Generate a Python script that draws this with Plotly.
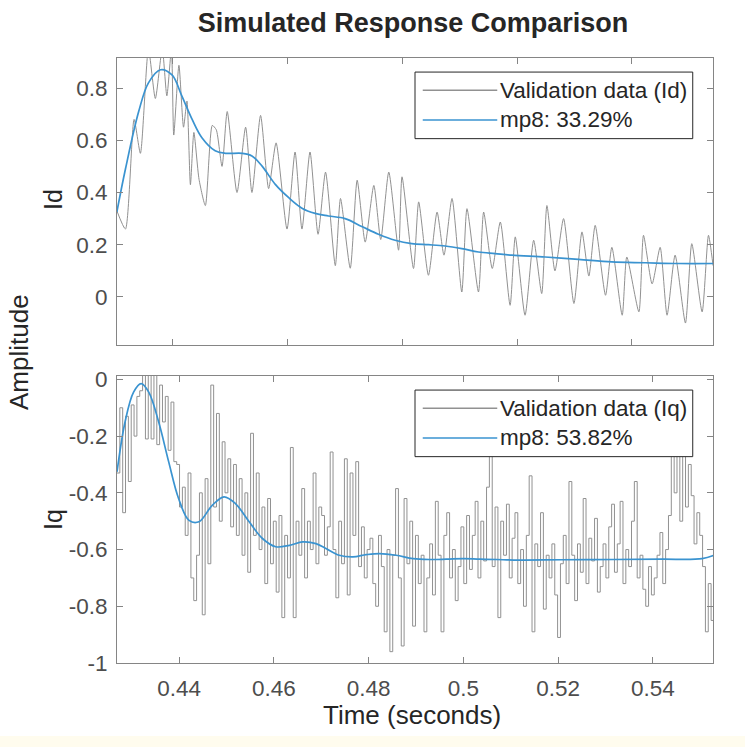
import plotly.graph_objects as go

# ---------------- data ----------------
# Top panel (Id): validation data, turning points (time s, amplitude)
id_val_t = [0.4304, 0.4319, 0.4334, 0.4345, 0.4359, 0.4371, 0.4383, 0.4391, 0.4399, 0.4403,
            0.4412, 0.4420, 0.4426, 0.4432, 0.4438, 0.4447, 0.4458, 0.4470, 0.4477, 0.4487,
            0.4496, 0.4513, 0.4528, 0.4539, 0.4554, 0.4568, 0.4581, 0.4600, 0.4614, 0.4626,
            0.4640, 0.4654, 0.4667, 0.4684, 0.4693, 0.4710, 0.4722, 0.4736, 0.4751, 0.4763,
            0.4777, 0.4794, 0.4800, 0.4820, 0.4829, 0.4846, 0.4861, 0.4873, 0.4887, 0.4904,
            0.4913, 0.4933, 0.4942, 0.4957, 0.4971, 0.4988, 0.4997, 0.5014, 0.5029, 0.5043,
            0.5052, 0.5066, 0.5081, 0.5099, 0.5113, 0.5125, 0.5136, 0.5154, 0.5165, 0.5183,
            0.5191, 0.5212, 0.5220, 0.5235, 0.5249, 0.5261, 0.5275, 0.5293, 0.5304, 0.5322,
            0.5333, 0.5341]
id_val_y = [0.33, 0.26, 0.68, 0.55, 0.95, 0.76, 0.95, 0.77, 0.95, 0.62,
            0.887, 0.65, 0.75, 0.43, 0.63, 0.45, 0.35, 0.657, 0.64, 0.50,
            0.71, 0.40, 0.65, 0.40, 0.695, 0.415, 0.59, 0.26, 0.555, 0.26,
            0.555, 0.24, 0.478, 0.12, 0.377, 0.11, 0.447, 0.21, 0.427, 0.22,
            0.478, 0.179, 0.46, 0.109, 0.364, 0.083, 0.325, 0.16, 0.377, 0.019,
            0.338, 0.019, 0.325, 0.109, 0.287, -0.032, 0.23, -0.07, 0.217, 0.013,
            0.35, 0.10, 0.30, -0.025, 0.249, 0.08, 0.274, 0.0065, 0.19, -0.07,
            0.153, -0.057, 0.236, 0.05, 0.19, -0.07, 0.16, -0.10, 0.204, -0.057,
            0.236, 0.12]

# Top panel (Id): model mp8 simulated response
id_mod_t = [0.4304, 0.4319, 0.4342, 0.4359, 0.4380, 0.4400, 0.4417, 0.4435, 0.4452, 0.4475,
            0.4493, 0.4522, 0.4539, 0.4557, 0.4580, 0.4603, 0.4626, 0.4649, 0.4672, 0.4701,
            0.4730, 0.4759, 0.4788, 0.4817, 0.4846, 0.4875, 0.4904, 0.4933, 0.4962, 0.4991,
            0.5049, 0.5107, 0.5165, 0.5223, 0.5281, 0.5341]
id_mod_y = [0.325, 0.49, 0.71, 0.82, 0.87, 0.85, 0.77, 0.68, 0.61, 0.56,
            0.55, 0.55, 0.54, 0.50, 0.43, 0.38, 0.34, 0.32, 0.31, 0.30,
            0.27, 0.24, 0.217, 0.204, 0.20, 0.195, 0.185, 0.172, 0.166, 0.16,
            0.153, 0.144, 0.134, 0.131, 0.128, 0.128]

# Bottom panel (Iq): validation data sampled every IQ_DT seconds from IQ_T0
IQ_T0 = 0.4269
IQ_DT = 0.0006
iq_val_y = [
    -0.33, -0.10, -0.47, -0.13, -0.36, -0.09, -0.20, -0.06, -0.04, 0.03,
    -0.21, 0.03, -0.21, 0.03, -0.23, -0.02, -0.15, -0.06, -0.25, -0.08,
    -0.29, -0.30, -0.45, -0.38, -0.55, -0.33, -0.70, -0.78, -0.62, -0.40,
    -0.83, -0.35, -0.65, -0.02, -0.45, -0.12, -0.50, -0.22, -0.40, -0.28,
    -0.52, -0.30, -0.55, -0.35, -0.62, -0.40, -0.68, -0.19, -0.55, -0.33,
    -0.60, -0.45, -0.72, -0.42, -0.65, -0.50, -0.75, -0.48, -0.84, -0.55,
    -0.70, -0.24, -0.84, -0.50, -0.62, -0.385, -0.70, -0.50, -0.60, -0.33,
    -0.65, -0.45, -0.48, -0.62, -0.52, -0.256, -0.60, -0.77, -0.50, -0.65,
    -0.28, -0.76, -0.33, -0.55, -0.29, -0.66, -0.52, -0.70, -0.60, -0.56,
    -0.72, -0.80, -0.55, -0.66, -0.89, -0.60, -0.96, -0.62, -0.385, -0.70,
    -0.94, -0.42, -0.65, -0.50, -0.87, -0.55, -0.72, -0.62, -0.89, -0.70,
    -0.58, -0.76, -0.43, -0.62, -0.89, -0.55, -0.47, -0.70, -0.60, -0.78,
    -0.66, -0.52, -0.72, -0.48, -0.67, -0.55, -0.43, -0.70, -0.50, -0.64,
    -0.38, -0.20, -0.66, -0.45, -0.84, -0.50, -0.62, -0.44, -0.70, -0.56,
    -0.47, -0.72, -0.60, -0.80, -0.55, -0.34, -0.89, -0.58, -0.66, -0.47,
    -0.81, -0.62, -0.70, -0.58, -0.76, -0.91, -0.65, -0.55, -0.72, -0.36,
    -0.62, -0.78, -0.58, -0.68, -0.42, -0.72, -0.56, -0.64, -0.49, -0.75,
    -0.66, -0.58, -0.70, -0.52, -0.44, -0.68, -0.58, -0.43, -0.72, -0.60,
    -0.66, -0.50, -0.36, -0.70, -0.62, -0.74, -0.80, -0.66, -0.76, -0.70,
    -0.62, -0.54, -0.72, -0.60, -0.48, -0.26, -0.40, -0.26, -0.50, -0.26,
    -0.45, -0.30, -0.41, -0.58, -0.47, -0.55, -0.66, -0.89, -0.72, -0.85,
    -0.62, -0.60]
iq_val_t = [IQ_T0 + IQ_DT * k for k in range(len(iq_val_y))]

# Bottom panel (Iq): model mp8 simulated response
iq_mod_t = [0.4269, 0.4286, 0.4304, 0.4320, 0.4336, 0.4357, 0.4378, 0.4399, 0.4421, 0.4442,
            0.4470, 0.4495, 0.4519, 0.4548, 0.4576, 0.4604, 0.4633, 0.4661, 0.4689, 0.4710,
            0.4738, 0.4767, 0.4795, 0.4823, 0.4858, 0.4894, 0.4929, 0.4964, 0.5000, 0.5035,
            0.5070, 0.5106, 0.5207, 0.5318, 0.5419, 0.5504, 0.5529]
iq_mod_y = [-0.326, -0.15, -0.045, -0.015, -0.045, -0.15, -0.29, -0.42, -0.497, -0.502,
            -0.444, -0.414, -0.438, -0.502, -0.561, -0.59, -0.585, -0.573, -0.579, -0.596,
            -0.62, -0.626, -0.618, -0.614, -0.62, -0.632, -0.635, -0.634, -0.632, -0.634,
            -0.635, -0.637, -0.636, -0.635, -0.634, -0.632, -0.62]

# Ticks and labels
x_tick_vals = [0.44, 0.46, 0.48, 0.50, 0.52, 0.54]
x_tick_text = ["0.44", "0.46", "0.48", "0.5", "0.52", "0.54"]
id_tick_vals = [0, 0.2, 0.4, 0.6, 0.8]
id_tick_text = ["0", "0.2", "0.4", "0.6", "0.8"]
iq_tick_vals = [-1, -0.8, -0.6, -0.4, -0.2, 0]
iq_tick_text = ["-1", "-0.8", "-0.6", "-0.4", "-0.2", "0"]
legend_id = ["Validation data (Id)", "mp8: 33.29%"]
legend_iq = ["Validation data (Iq)", "mp8: 53.82%"]

# ---------------- styling ----------------
FONT = "Liberation Sans, Arial, Helvetica, sans-serif"
GRAY = "rgb(145,145,145)"
BLUE = "rgb(58,147,208)"
AXC = "#858585"
TXT = "#262626"
TICKC = "#4d4d4d"

W, H = 745, 747
ML, MR, MT, MB = 117, 32, 58, 84
PLOT_H = H - MT - MB


def py(px):
    """page-pixel row -> paper y"""
    return (H - MB - px) / PLOT_H


def pxx(px):
    """page-pixel column -> paper x"""
    return (px - ML) / (W - ML - MR)


fig = go.Figure()
fig.add_trace(go.Scatter(x=id_val_t, y=id_val_y, mode="lines", name=legend_id[0],
                         line=dict(color=GRAY, width=1, shape="spline", smoothing=0.6),
                         xaxis="x", yaxis="y", showlegend=False))
fig.add_trace(go.Scatter(x=id_mod_t, y=id_mod_y, mode="lines", name=legend_id[1],
                         line=dict(color=BLUE, width=1.7, shape="spline", smoothing=1.0),
                         xaxis="x", yaxis="y", showlegend=False))
fig.add_trace(go.Scatter(x=iq_val_t, y=iq_val_y, mode="lines", name=legend_iq[0],
                         line=dict(color=GRAY, width=1, shape="hv"), xaxis="x2", yaxis="y2",
                         showlegend=False))
fig.add_trace(go.Scatter(x=iq_mod_t, y=iq_mod_y, mode="lines", name=legend_iq[1],
                         line=dict(color=BLUE, width=1.7, shape="spline", smoothing=1.0),
                         xaxis="x2", yaxis="y2", showlegend=False))

axis_common = dict(showline=True, linecolor=AXC, linewidth=1, mirror="ticks", ticks="inside",
                   ticklen=6, tickcolor=AXC, showgrid=False, zeroline=False,
                   tickfont=dict(family=FONT, size=22.5, color=TICKC))

fig.update_layout(
    width=W, height=H,
    margin=dict(l=ML, r=MR, t=MT, b=MB),
    paper_bgcolor="white", plot_bgcolor="white",
    hovermode=False,
    title=dict(text="<b>Simulated Response Comparison</b>", x=(ML + 296) / W, xanchor="center",
               y=1 - 23 / H, yanchor="middle", yref="container",
               font=dict(family=FONT, size=27, color=TXT)),
    xaxis=dict(domain=[0, 1], anchor="y", range=[0.43043, 0.53409],
               tickvals=x_tick_vals, showticklabels=False, **axis_common),
    yaxis=dict(domain=[py(345), 1], anchor="x", range=[-0.184, 0.915],
               tickvals=id_tick_vals, ticktext=id_tick_text, ticklabelstandoff=4, **axis_common),
    xaxis2=dict(domain=[0, 1], anchor="y2", range=[0.4269, 0.5527],
                tickvals=x_tick_vals, ticktext=x_tick_text, ticklabelstandoff=5, **axis_common),
    yaxis2=dict(domain=[0, py(376)], anchor="x2", range=[-1, 0.012],
                tickvals=iq_tick_vals, ticktext=iq_tick_text, ticklabelstandoff=4, **axis_common),
)

annos = [
    dict(text="Amplitude", x=pxx(19), y=py(352), textangle=-90, size=26),
    dict(text="Id", x=pxx(53), y=py(200), textangle=-90, size=25),
    dict(text="Iq", x=pxx(53), y=py(520), textangle=-90, size=25),
    dict(text="Time (seconds)", x=pxx(412), y=py(715), textangle=0, size=26),
]
for a in annos:
    fig.add_annotation(xref="paper", yref="paper", xanchor="center", yanchor="middle",
                       showarrow=False, text=a["text"], x=a["x"], y=a["y"], borderpad=0,
                       textangle=a["textangle"],
                       font=dict(family=FONT, color=TXT, size=a["size"]))

# legend boxes drawn in axes-domain coordinates
for xr, yr, labels in (("x domain", "y domain", legend_id), ("x2 domain", "y2 domain", legend_iq)):
    fig.add_shape(type="rect", xref=xr, yref=yr, x0=0.500, x1=0.966, y0=0.719, y1=0.951,
                  line=dict(color=TXT, width=1), fillcolor="white", layer="above")
    for (ly, col, txt) in ((0.888, GRAY, labels[0]), (0.784, BLUE, labels[1])):
        fig.add_shape(type="line", xref=xr, yref=yr, x0=0.513, x1=0.638, y0=ly, y1=ly,
                      line=dict(color=col, width=1.5), layer="above")
        fig.add_annotation(xref=xr, yref=yr, x=0.640, y=ly, xanchor="left", yanchor="middle",
                           showarrow=False, text=txt,
                           font=dict(family=FONT, size=22.5, color=TXT))

# pale strip along the bottom edge of the picture
fig.add_shape(type="rect", xref="paper", yref="paper", x0=pxx(0), x1=pxx(745),
              y0=py(747), y1=py(736),
              line=dict(width=0), fillcolor="#fffcee", layer="below")

# remove the default 8px page margin so figure pixels equal page pixels
fig.write_html("out.html", config={"displayModeBar": False},
               post_script="document.body.style.margin='0px';")
